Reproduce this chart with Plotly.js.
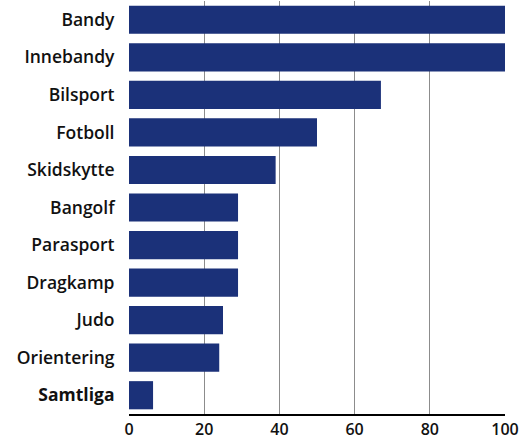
<!DOCTYPE html>
<html>
<head>
<meta charset="utf-8">
<script src="https://cdn.plot.ly/plotly-3.0.1.min.js"></script>
<style>html,body{margin:0;padding:0;background:#fff;}#chart{width:531px;height:439px;}</style>
</head>
<body>
<div id="chart"></div>
<script>
const categories = ["Bandy","Innebandy","Bilsport","Fotboll","Skidskytte","Bangolf","Parasport","Dragkamp","Judo","Orientering","Samtliga"];
const values = [100,100,67,50,39,29,29,29,25,24,6.4];
const tickLabels = ["Bandy","Innebandy","Bilsport","Fotboll","Skidskytte","Bangolf","Parasport","Dragkamp","Judo","Orientering","<b>Samtliga</b>"];
const xTicks = [0,20,40,60,80,100];

const trace = {
  type: 'bar',
  orientation: 'h',
  x: values,
  y: categories,
  marker: {color: '#1b3179'},
  hoverinfo: 'none'
};

const layout = {
  width: 531, height: 439,
  margin: {l: 129, r: 26, t: 1, b: 25},
  paper_bgcolor: '#ffffff',
  plot_bgcolor: '#ffffff',
  bargap: 0.25,
  showlegend: false,
  font: {family: 'Open Sans, sans-serif', color: '#111111'},
  xaxis: {
    range: [0, 100],
    tickvals: xTicks,
    ticktext: xTicks.map(String),
    showgrid: true,
    gridcolor: '#8c8c8c',
    gridwidth: 1.3,
    zeroline: false,
    showline: true,
    linecolor: '#000000',
    linewidth: 2,
    ticks: '',
    ticklabelstandoff: 0,
    tickfont: {size: 16, weight: 600, color: '#111111'},
    fixedrange: true
  },
  yaxis: {
    autorange: 'reversed',
    tickvals: categories,
    ticktext: tickLabels,
    showgrid: false,
    zeroline: false,
    showline: false,
    ticks: 'outside',
    ticklen: 10,
    tickcolor: 'rgba(0,0,0,0)',
    tickfont: {size: 17.5, weight: 600, color: '#111111'},
    fixedrange: true
  }
};

Plotly.newPlot('chart', [trace], layout, {displayModeBar: false, staticPlot: true});
</script>
</body>
</html>
